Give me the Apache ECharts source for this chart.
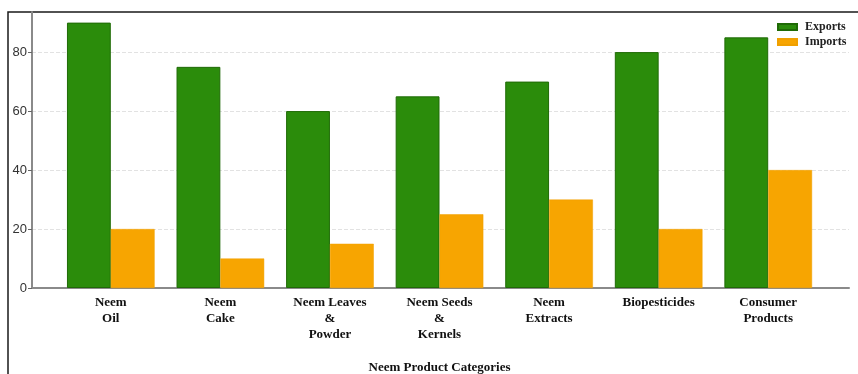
<!DOCTYPE html>
<html>
<head>
<meta charset="utf-8">
<script src="https://cdn.jsdelivr.net/npm/echarts@6/dist/echarts.min.js"></script>
<style>
  html, body { margin: 0; padding: 0; background: #fff; }
  #chart { width: 858px; height: 374px; }
</style>
</head>
<body>
<div id="chart"></div>
<script>
// Neem product trade: exports vs imports per category
const categories = [
  'Neem\nOil',
  'Neem\nCake',
  'Neem Leaves\n&\nPowder',
  'Neem Seeds\n&\nKernels',
  'Neem\nExtracts',
  'Biopesticides',
  'Consumer\nProducts'
];
const exportsData = [90, 75, 60, 65, 70, 80, 85];
const importsData = [20, 10, 15, 25, 30, 20, 40];
const yTicks = [0, 20, 40, 60, 80];
const yMax = 93.6;

const serif = '"Liberation Serif", "Times New Roman", serif';
const sans = '"Liberation Sans", Arial, sans-serif';

const chart = echarts.init(document.getElementById('chart'), null, { renderer: 'canvas' });

chart.setOption({
  animation: false,
  backgroundColor: '#ffffff',
  legend: {
    orient: 'vertical',
    left: 772,
    top: 15,
    itemWidth: 19,
    itemHeight: 6,
    itemGap: 1,
    icon: 'rect',
    textStyle: {
      fontFamily: serif,
      fontWeight: 'bold',
      fontSize: 12,
      color: '#222',
      lineHeight: 14,
      padding: [0, 0, 0, 3]
    },
    data: ['Exports', 'Imports']
  },
  grid: [
    // bar area
    { left: 56, right: 35, top: 12, bottom: 86, outerBoundsMode: 'none', containLabel: false },
    // axis frame spanning the full plot width
    { left: 32, right: 9, top: 12, bottom: 86, outerBoundsMode: 'none', containLabel: false }
  ],
  xAxis: [
    {
      type: 'category',
      gridIndex: 0,
      data: categories,
      axisLine: { show: false },
      axisTick: { show: false },
      axisLabel: {
        margin: 7,
        fontFamily: serif,
        fontWeight: 'bold',
        fontSize: 13,
        lineHeight: 16,
        color: '#111',
        interval: 0
      },
      name: 'Neem Product Categories',
      nameLocation: 'middle',
      nameGap: 73,
      nameTextStyle: {
        fontFamily: serif,
        fontWeight: 'bold',
        fontSize: 13,
        color: '#111',
        verticalAlign: 'top'
      }
    },
    {
      type: 'value',
      gridIndex: 1,
      min: 0,
      max: 1,
      axisLine: { show: true, onZero: false, lineStyle: { color: '#8a8a8a', width: 2 } },
      axisTick: { show: false },
      axisLabel: { show: false },
      splitLine: { show: false }
    }
  ],
  yAxis: [
    {
      type: 'value',
      gridIndex: 0,
      min: 0,
      max: yMax,
      interval: 20,
      axisLine: { show: false },
      axisTick: { show: false },
      axisLabel: { show: false },
      splitLine: { show: false }
    },
    {
      type: 'value',
      gridIndex: 1,
      min: 0,
      max: yMax,
      interval: 20,
      axisLine: { show: true, lineStyle: { color: '#8a8a8a', width: 2 } },
      axisTick: {
        show: true,
        length: 4,
        lineStyle: { color: '#666', width: 1 },
        customValues: yTicks
      },
      axisLabel: {
        margin: 5,
        fontFamily: sans,
        fontSize: 13,
        color: '#333',
        customValues: yTicks
      },
      splitLine: {
        show: true,
        showMinLine: false,
        lineStyle: { color: '#e2e2e2', width: 1, type: [4, 2] }
      }
    }
  ],
  series: [
    {
      name: 'Exports',
      type: 'bar',
      xAxisIndex: 0,
      yAxisIndex: 0,
      data: exportsData,
      barWidth: '40%',
      barGap: '0%',
      itemStyle: { color: '#2b8c0b', borderColor: '#1f6a06', borderWidth: 1 }
    },
    {
      name: 'Imports',
      type: 'bar',
      xAxisIndex: 0,
      yAxisIndex: 0,
      data: importsData,
      barWidth: '40%',
      barGap: '0%',
      itemStyle: { color: '#f7a501', borderColor: '#f0a000', borderWidth: 0.5 }
    }
  ],
  graphic: [
    {
      type: 'polyline',
      silent: true,
      shape: { points: [[8, 374], [8, 12], [858, 12]] },
      style: { stroke: '#1a1a1a', lineWidth: 1.5, fill: null }
    }
  ]
});
</script>
</body>
</html>
